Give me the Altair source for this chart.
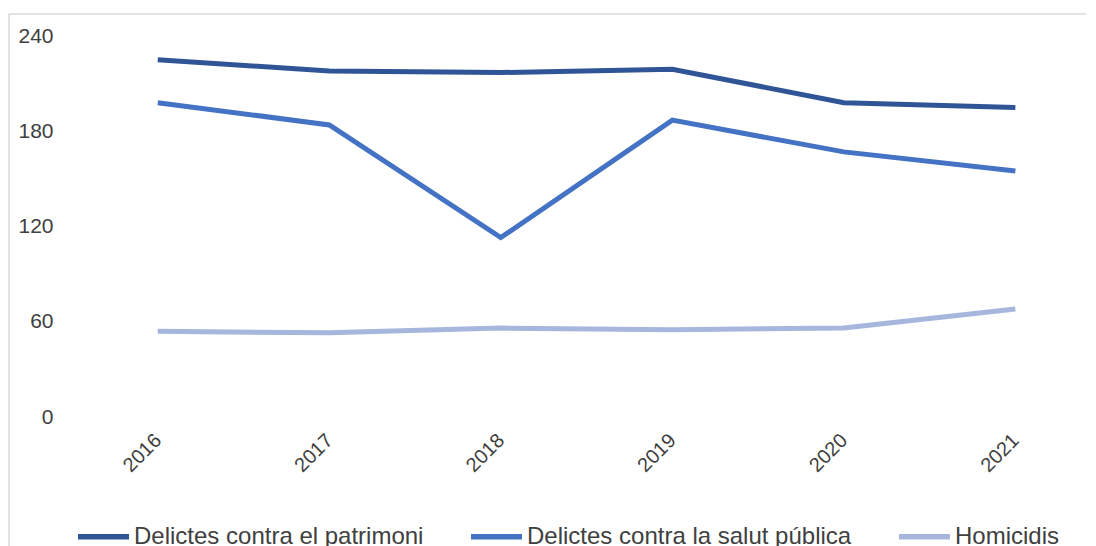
import altair as alt
import pandas as pd

years = [2016, 2017, 2018, 2019, 2020, 2021]
patrimoni = [225, 218, 217, 219, 198, 195]
salut = [198, 184, 113, 187, 167, 155]
homicidis = [54, 53, 56, 55, 56, 68]

series_names = [
    "Delictes contra el patrimoni",
    "Delictes contra la salut pública",
    "Homicidis",
]
series_colors = ["#2F5597", "#4472C4", "#A7B6DC"]
y_ticks = [0, 60, 120, 180, 240]

rows = []
for name, vals in zip(series_names, [patrimoni, salut, homicidis]):
    for yr, v in zip(years, vals):
        rows.append({"year": yr, "value": v, "series": name})
df = pd.DataFrame(rows)

FONT = "Liberation Sans"
TXT = "#404040"
L, T, W, H = 64, 28, 1012, 381

lines = alt.Chart(df).mark_line(strokeWidth=5, strokeCap="butt", strokeJoin="miter").encode(
    x=alt.X(
        "year:Q",
        scale=alt.Scale(domain=[2015.5, 2021.4], nice=False, zero=False),
        axis=alt.Axis(
            values=years, format="d", labelAngle=-45, labelAlign="right",
            labelBaseline="middle", labelPadding=20, domain=False, ticks=False,
            tickSize=0, grid=False, title=None, labelFontSize=20, labelFont=FONT,
            labelColor=TXT, labelOverlap=False, labelFlush=False,
        ),
    ),
    y=alt.Y(
        "value:Q",
        scale=alt.Scale(domain=[0, 240], nice=False, zero=True),
        axis=alt.Axis(
            values=y_ticks, title=None, domain=False, ticks=False, tickSize=0,
            grid=False, labelFontSize=21, labelFont=FONT, labelColor=TXT,
            labelPadding=19, labelFlush=False, labelOverlap=False,
        ),
    ),
    color=alt.Color(
        "series:N",
        scale=alt.Scale(domain=series_names, range=series_colors),
        sort=series_names,
        legend=alt.Legend(
            title=None, orient="none", direction="horizontal", columns=3,
            legendX=3, legendY=472, symbolType="stroke", symbolSize=2601,
            symbolStrokeWidth=5.5, labelFontSize=24, labelFont=FONT,
            labelColor=TXT, labelOffset=2, columnPadding=36, labelLimit=0,
            padding=0,
        ),
    ),
)

one = pd.DataFrame({"a": [0]})
border_left = alt.Chart(one).mark_rule(color="#D9D9D9", strokeWidth=1.5).encode(
    x=alt.value(1 - L), y=alt.value(6 - T), y2=alt.value(600)
)
border_top = alt.Chart(one).mark_rule(color="#D9D9D9", strokeWidth=1.5).encode(
    x=alt.value(1 - L), x2=alt.value(1200), y=alt.value(6 - T)
)

chart = alt.layer(border_left, border_top, lines).properties(
    width=W, height=H,
    autosize=alt.AutoSizeParams(type="none"),
    padding={"left": L, "top": T, "right": 2, "bottom": 538 - T - H},
).configure(font=FONT).configure_view(stroke=None, strokeWidth=0)

chart.save("out.html", embed_options={"renderer": "svg", "actions": False})
